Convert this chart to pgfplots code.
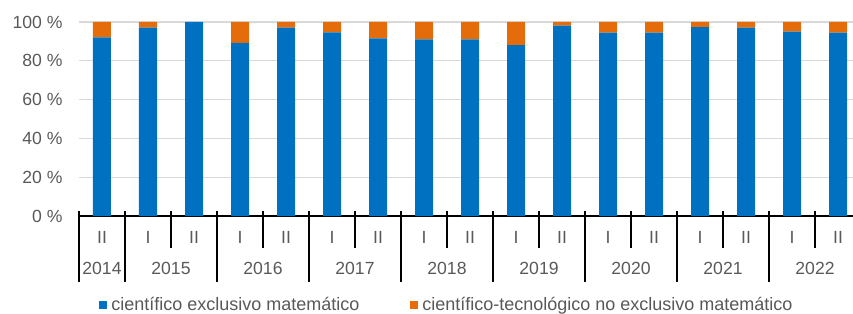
\documentclass[border=0pt]{standalone}
\usepackage{pgfplots}
\pgfplotsset{compat=1.18}
\usepackage{fontspec}
\setmainfont{Liberation Sans}
\definecolor{cblue}{HTML}{0070C0}
\definecolor{corange}{HTML}{E46C0A}
\definecolor{tgray}{HTML}{595959}
\definecolor{ggray}{HTML}{D9D9D9}
\begin{document}
\begin{tikzpicture}
\path[use as bounding box] (-79bp,-98bp) rectangle (774bp,216bp);
\begin{axis}[
  at={(0,0)}, anchor=south west,
  scale only axis, width=774bp, height=194bp,
  xmin=-0.5, xmax=16.326, ymin=0, ymax=100,
  ybar stacked, bar width=18bp,
  clip=false,
  axis line style={draw=none},
  ymajorgrids, grid style={ggray, line width=1.3bp},
  ytick={0,20,40,60,80,100},
  yticklabels={0 \%,20 \%,40 \%,60 \%,80 \%,100 \%},
  major tick length=0pt,
  xtick={0,...,16},
  xticklabels={II,I,II,I,II,I,II,I,II,I,II,I,II,I,II,I,II},
  xticklabel style={anchor=base, yshift=-27.6bp},
  extra x ticks={0,1.5,3.5,5.5,7.5,9.5,11.5,13.5,15.5},
  extra x tick labels={2014,2015,2016,2017,2018,2019,2020,2021,2022},
  extra x tick style={major tick length=0pt, xticklabel style={yshift=-31bp}},
  tick label style={font=\fontsize{17.6bp}{21bp}\selectfont, text=tgray},
  yticklabel style={xshift=-13bp},
  legend style={at={(0.0255,-0.459)}, anchor=west, draw=none, inner sep=0pt,
    font=\fontsize{18bp}{21bp}\selectfont, text=tgray,
    /tikz/every even column/.append style={column sep=48.5bp}},
  legend columns=2,
  legend image code/.code={\path (0bp,0bp) -- (10.4bp,0bp);\fill[#1, draw=none] (0bp,-3.85bp) rectangle (7.7bp,3.85bp);},
]
\addplot[fill=cblue, draw=none] coordinates {
(0,92.1) (1,97.1) (2,100) (3,89.2) (4,97.1) (5,94.7) (6,91.6) (7,91.1) (8,91.1)
(9,88.1) (10,98.1) (11,94.5) (12,94.5) (13,97.4) (14,97.1) (15,95.0) (16,94.5)};
\addplot[fill=corange, draw=none] coordinates {
(0,7.9) (1,2.9) (2,0) (3,10.8) (4,2.9) (5,5.3) (6,8.4) (7,8.9) (8,8.9)
(9,11.9) (10,1.9) (11,5.5) (12,5.5) (13,2.6) (14,2.9) (15,5.0) (16,5.5)};
\legend{científico exclusivo matemático, científico-tecnológico no exclusivo matemático}
\draw[black, line width=1.5bp] (rel axis cs:0,0) -- (rel axis cs:1,0);
\pgfplotsinvokeforeach{-0.5,0.5,2.5,4.5,6.5,8.5,10.5,12.5,14.5}{
  \draw[black, line width=1.5bp] (axis cs:#1,0) ++(0bp,5bp) -- ++(0bp,-71bp);}
\pgfplotsinvokeforeach{1.5,3.5,5.5,7.5,9.5,11.5,13.5,15.5}{
  \draw[black, line width=1.5bp] (axis cs:#1,0) ++(0bp,5bp) -- ++(0bp,-37bp);}
\end{axis}
\end{tikzpicture}
\end{document}
